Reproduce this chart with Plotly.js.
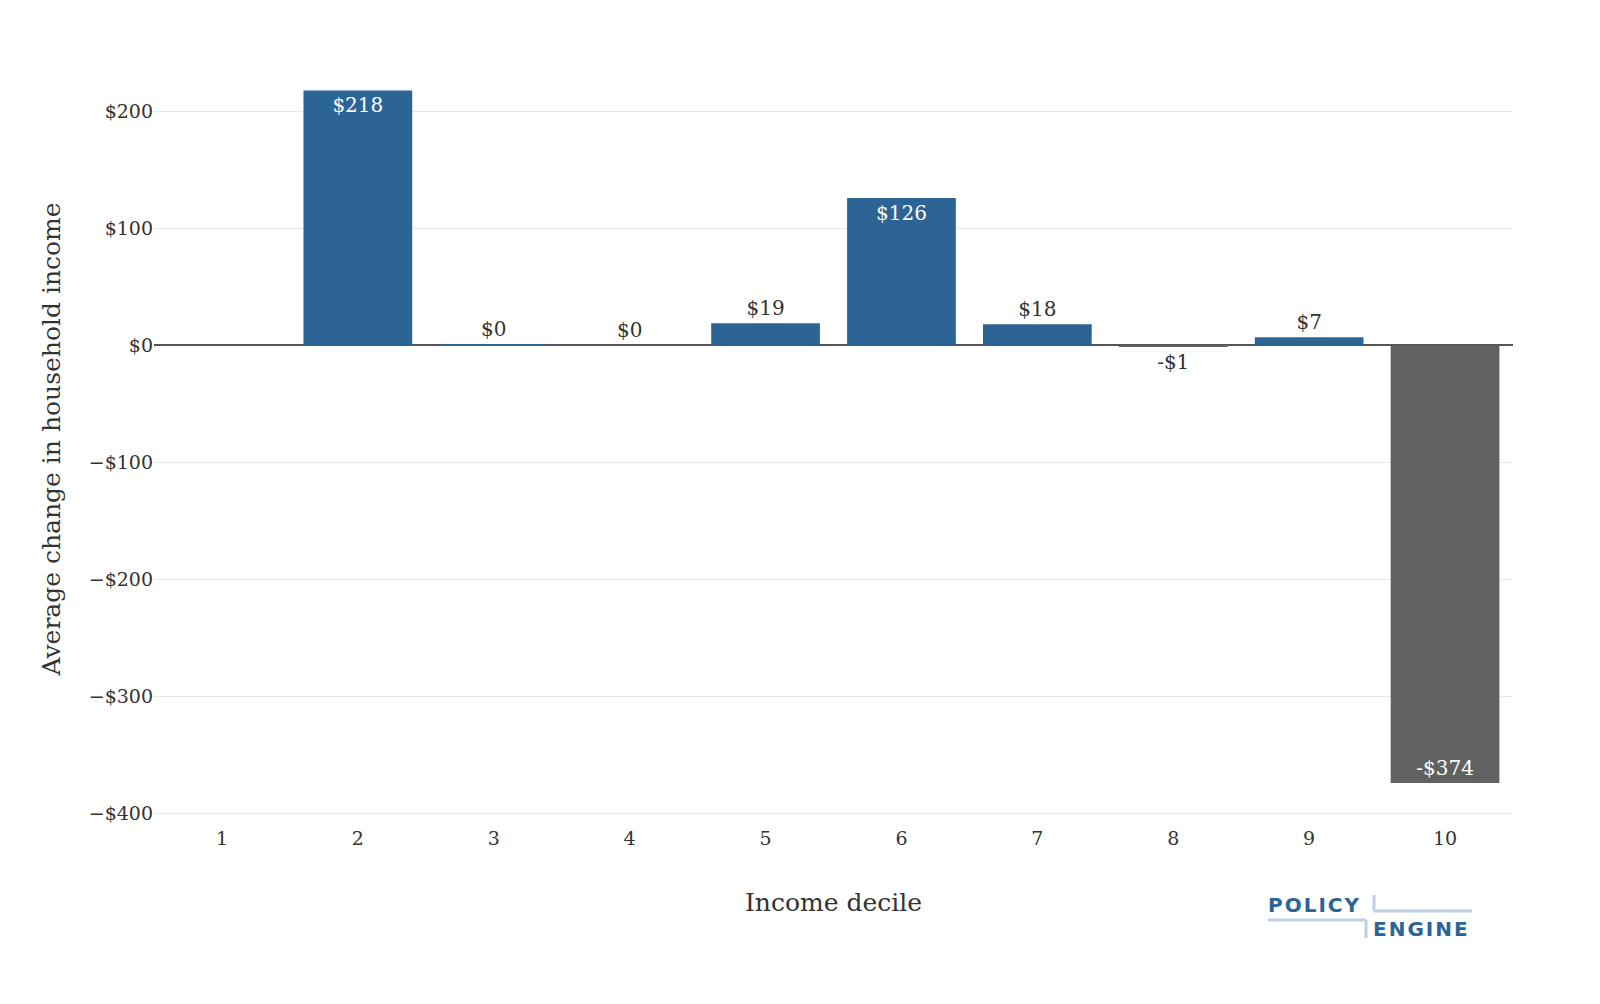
<!DOCTYPE html>
<html>
<head>
<meta charset="utf-8">
<script src="https://cdn.plot.ly/plotly-3.0.1.min.js"></script>
<style>body{margin:0;background:#fff}#chart{width:1600px;height:1004px}</style>
</head>
<body>
<div id="chart"></div>
<script>
const deciles = ['1', '2', '3', '4', '5', '6', '7', '8', '9', '10'];
const changes = [0, 218, 0.4, 0.2, 19, 126, 18, -1, 7, -374];
const labels = ['', '$218', '$0', '$0', '$19', '$126', '$18', '-$1', '$7', '-$374'];
const yTicks = [-400, -300, -200, -100, 0, 100, 200];
const yTickText = ['−$400', '−$300', '−$200', '−$100', '$0', '$100', '$200'];

const FONT = 'DejaVu Serif, Liberation Serif, serif';
const W = 1600, H = 1004, L = 154, R = 87, T = 53, B = 179;
const px = x => (x - L) / (W - L - R);
const py = y => (H - B - y) / (H - T - B);
const spaced = s => s.split('').join('\u200a');

const trace = {
  x: deciles,
  y: changes,
  type: 'bar',
  text: labels,
  textposition: 'auto',
  insidetextanchor: 'end',
  textfont: { family: FONT, size: 20 },
  insidetextfont: { color: '#fff', family: FONT, size: 20 },
  outsidetextfont: { color: '#333', family: FONT, size: 20 },
  marker: { color: changes.map(v => v < 0 ? '#616161' : '#2C6496') },
  cliponaxis: false,
  hoverinfo: 'skip'
};

const logoLine = { color: '#BDD0E4', width: 3 };
const logoFont = { family: 'DejaVu Sans, sans-serif', size: 20, color: '#2C6496' };
const layout = {
  width: W, height: H,
  margin: { l: L, r: R, t: T, b: B },
  paper_bgcolor: '#fff', plot_bgcolor: '#fff',
  font: { family: FONT, size: 19, color: '#333' },
  bargap: 0.2,
  showlegend: false,
  xaxis: {
    type: 'category',
    title: { text: 'Income decile', font: { size: 25 }, standoff: 45 },
    tickfont: { size: 19 }, ticks: '', showgrid: false
  },
  yaxis: {
    range: [-410, 250],
    tickvals: yTicks, ticktext: yTickText,
    tickfont: { size: 19 },
    gridcolor: '#E8E8E8',
    zeroline: true, zerolinecolor: '#555', zerolinewidth: 1.5,
    title: { text: 'Average change in household income', font: { size: 25 }, standoff: 20 }
  },
  annotations: [
    { xref: 'paper', yref: 'paper', x: px(1266), y: py(905), xanchor: 'left', yanchor: 'middle',
      text: '<b>' + spaced('POLICY') + '</b>', showarrow: false, font: logoFont },
    { xref: 'paper', yref: 'paper', x: px(1371), y: py(929), xanchor: 'left', yanchor: 'middle',
      text: '<b>' + spaced('ENGINE') + '</b>', showarrow: false, font: logoFont }
  ],
  shapes: [
    { type: 'line', xref: 'paper', yref: 'paper', x0: px(1268), x1: px(1366), y0: py(920), y1: py(920), line: logoLine },
    { type: 'line', xref: 'paper', yref: 'paper', x0: px(1366), x1: px(1366), y0: py(920), y1: py(938), line: logoLine },
    { type: 'line', xref: 'paper', yref: 'paper', x0: px(1374), x1: px(1374), y0: py(895), y1: py(911), line: logoLine },
    { type: 'line', xref: 'paper', yref: 'paper', x0: px(1374), x1: px(1472), y0: py(911), y1: py(911), line: logoLine }
  ]
};

Plotly.newPlot('chart', [trace], layout, { displayModeBar: false });
</script>
</body>
</html>
